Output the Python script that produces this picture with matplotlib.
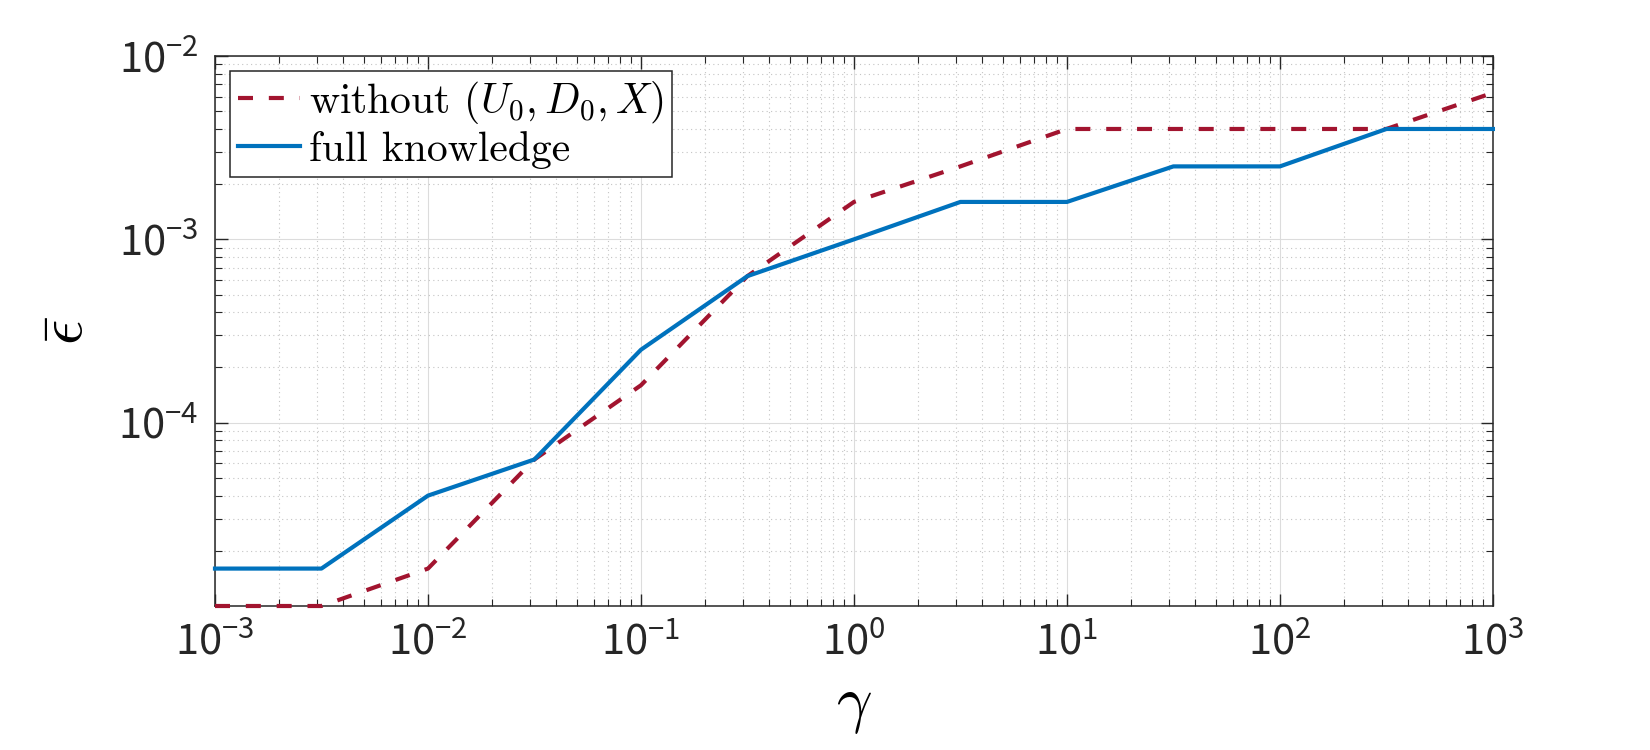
import matplotlib
matplotlib.use("Agg")
import matplotlib.pyplot as plt
from matplotlib.font_manager import FontProperties
from matplotlib.ticker import NullFormatter

# gamma grid (half decades)
gamma = [1e-3, 3.16e-3, 1e-2, 3.16e-2, 1e-1, 3.16e-1, 1.0, 3.16, 10.0, 31.6, 100.0, 316.0, 1000.0]

# mean error
eps_without = [1.0e-5, 1.0e-5, 1.6e-5, 6.3e-5, 1.6e-4, 6.3e-4, 1.6e-3, 2.5e-3, 4.0e-3, 4.0e-3, 4.0e-3, 4.0e-3, 6.3e-3]
eps_full = [1.6e-5, 1.6e-5, 4.0e-5, 6.3e-5, 2.5e-4, 6.3e-4, 1.0e-3, 1.6e-3, 1.6e-3, 2.5e-3, 2.5e-3, 4.0e-3, 4.0e-3]

label_without = r"without $(U_0, D_0, X)$"
label_full = "full knowledge"

plt.rcParams["mathtext.fontset"] = "custom"
plt.rcParams["mathtext.rm"] = "Noto Sans CJK JP"
plt.rcParams["mathtext.it"] = "Noto Sans CJK JP"
plt.rcParams["mathtext.fallback"] = "stixsans"
plt.rcParams["font.family"] = ["Noto Sans CJK JP", "DejaVu Sans"]

fig = plt.figure(figsize=(16.5, 7.5), dpi=100)
ax = fig.add_axes([0.1303, 0.192, 0.7745, 0.7333])

ax.plot(gamma, eps_without, color="#A2142F", lw=3, ls=(0, (3.6, 3.8)),
        label=label_without, clip_on=False, zorder=3)
ax.plot(gamma, eps_full, color="#0072BD", lw=3, label=label_full,
        clip_on=False, zorder=4)

ax.set_xscale("log")
ax.set_yscale("log")
ax.set_xlim(1e-3, 1e3)
ax.set_ylim(1e-5, 1e-2)
ax.set_yticks([1e-4, 1e-3, 1e-2])
ax.xaxis.set_minor_formatter(NullFormatter())
ax.yaxis.set_minor_formatter(NullFormatter())

ax.grid(True, which="major", color="#dcdcdc", lw=0.8, ls="-")
ax.grid(True, which="minor", color="#c4c4c4", lw=0.8, ls=(0, (1, 3)))
ax.set_axisbelow(True)

ax.tick_params(which="both", direction="in", top=True, right=True, color="#262626")
ax.tick_params(which="major", length=9, width=1, labelsize=30, labelcolor="#262626", pad=12)
ax.tick_params(which="minor", length=5, width=0.8)
for s in ax.spines.values():
    s.set_color("#262626")
    s.set_linewidth(1.1)

ax.set_xlabel(r"$\gamma$", fontsize=45, math_fontfamily="cm", labelpad=6)
ax.set_ylabel(r"$\bar{\epsilon}$", fontsize=45, math_fontfamily="cm")
ax.yaxis.set_label_coords(-0.092, 0.5)

leg_font = FontProperties(family="cmr10", size=30, math_fontfamily="cm")
leg = ax.legend(loc="upper left", prop=leg_font, fancybox=False, framealpha=1,
                edgecolor="#262626", borderaxespad=0.35, borderpad=0.2,
                labelspacing=0.12, handlelength=1.5, handletextpad=0.2)
leg.get_frame().set_linewidth(1.1)

fig.savefig("out.png", dpi=100)
